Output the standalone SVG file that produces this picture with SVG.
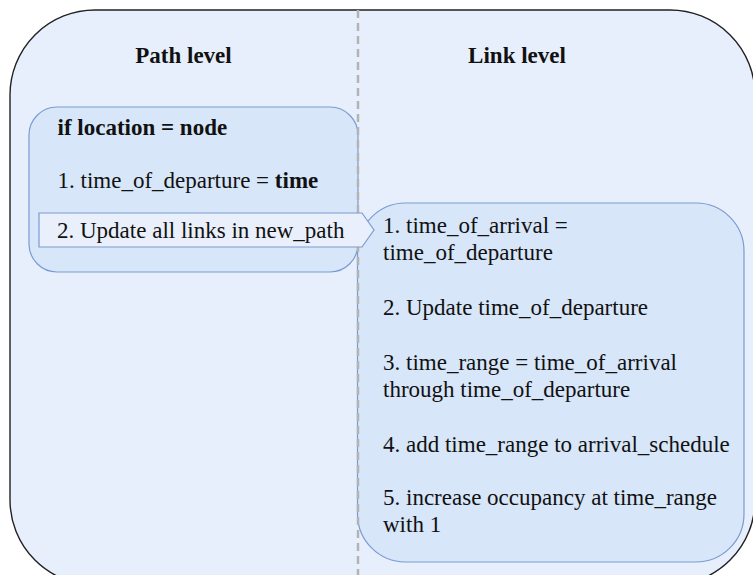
<svg xmlns="http://www.w3.org/2000/svg" width="753" height="575" viewBox="0 0 753 575" font-family="'Liberation Serif', Times, 'DejaVu Serif', serif">
  <style>
    text { font-family: 'Liberation Serif', Times, 'DejaVu Serif', serif; font-size: 23px; fill: #111; }
    .title { font-weight: bold; text-anchor: middle; }
    .b { font-weight: bold; }
    .box { fill: #d7e6f9; stroke: #7a9bd0; stroke-width: 1.2; }
    .tag { fill: #e9f0fc; stroke: #7a9bd0; stroke-width: 1.2; }
    .divider { stroke: #b3b3b3; stroke-width: 2.5; stroke-dasharray: 8 5; fill: none; }
  </style>

  <!-- outer frame -->
  <g id="frame">
    <rect x="10" y="10" width="745" height="575" rx="85" ry="85" fill="#e8effc" stroke="#222" stroke-width="1.4"/>
  </g>

  <!-- column titles -->
  <g id="titles">
    <text class="title" x="183.5" y="63">Path level</text>
    <text class="title" x="517" y="63">Link level</text>
  </g>

  <!-- path level block -->
  <g id="path-block">
    <rect class="box" x="29" y="107" width="329" height="165" rx="28" ry="28"/>
    <text class="b" x="57.5" y="135">if location = node</text>
    <text x="57.5" y="188">1. time_of_departure = <tspan class="b">time</tspan></text>
  </g>

  <!-- link level block -->
  <g id="link-block">
    <rect class="box" x="357.5" y="203" width="386.5" height="359" rx="48" ry="48"/>
    <text x="383" y="233">1. time_of_arrival  =</text>
    <text x="383" y="260">time_of_departure</text>
    <text x="383" y="315">2. Update time_of_departure</text>
    <text x="383" y="370">3. time_range = time_of_arrival</text>
    <text x="383" y="397">through time_of_departure</text>
    <text x="383" y="452">4. add time_range to arrival_schedule</text>
    <text x="383" y="505">5. increase occupancy at time_range</text>
    <text x="383" y="532">with 1</text>
  </g>

  <!-- column divider -->
  <g id="connectors">
    <line class="divider" x1="358" y1="10" x2="358" y2="575"/>
  </g>

  <!-- update step pointing into the link level -->
  <g id="update-step">
    <path class="tag" d="M39 213 H362 L374 230 L362 247 H39 Z"/>
    <text x="57" y="238">2. Update all links in new_path</text>
  </g>
</svg>
